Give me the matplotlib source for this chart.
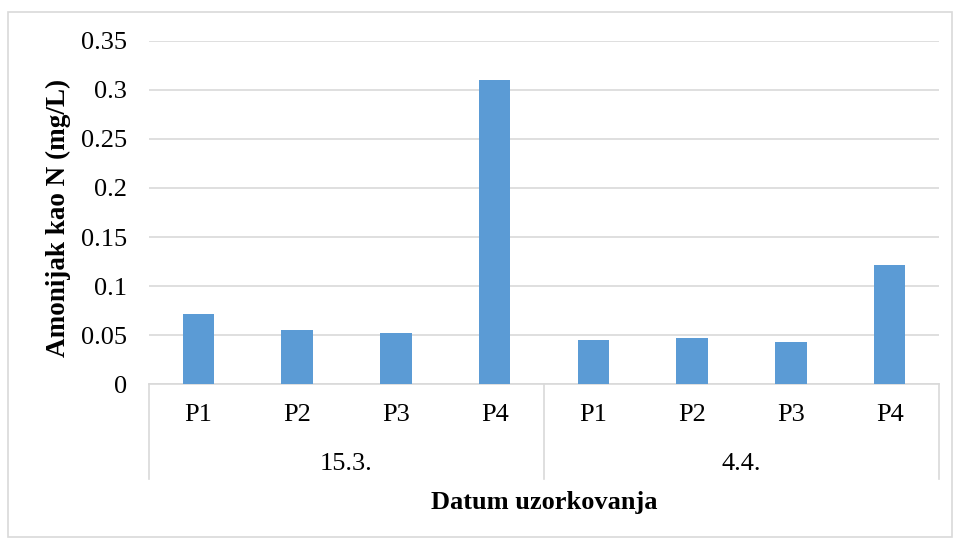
import matplotlib.pyplot as plt
from matplotlib.patches import Rectangle
from matplotlib.transforms import blended_transform_factory

# data
groups = ["15.3.", "4.4."]
points = ["P1", "P2", "P3", "P4"]
values_15_3 = [0.072, 0.055, 0.052, 0.31]
values_4_4 = [0.045, 0.047, 0.043, 0.122]
y_ticks = [0, 0.05, 0.1, 0.15, 0.2, 0.25, 0.3, 0.35]
y_tick_labels = ["0", "0.05", "0.1", "0.15", "0.2", "0.25", "0.3", "0.35"]

plt.rcParams["font.family"] = ["Liberation Serif", "DejaVu Serif"]

W, H = 955, 540
fig = plt.figure(figsize=(W / 100, H / 100), dpi=100)

# axes box in pixels: left 149, right 939, top 40.7, bottom 384.3
left, right, top, bottom = 149, 939, 40.7, 384.3
ax = fig.add_axes([left / W, (H - bottom) / H, (right - left) / W, (bottom - top) / H])

grid_color = "#d9d9d9"
bar_color = "#5b9bd5"

all_values = values_15_3 + values_4_4
x = list(range(len(all_values)))
ax.bar(x, all_values, width=0.317, color=bar_color, zorder=3)

ax.set_xlim(-0.5, len(all_values) - 0.5)
ax.set_ylim(0, 0.35)
ax.set_yticks(y_ticks)
ax.set_yticklabels(y_tick_labels)
ax.tick_params(axis="y", length=0, pad=16, labelsize=19)
ax.yaxis.grid(True, color=grid_color, linewidth=1.2, zorder=0)
ax.set_axisbelow(True)

for side in ["top", "right", "left"]:
    ax.spines[side].set_visible(False)
ax.spines["bottom"].set_color(grid_color)
ax.spines["bottom"].set_linewidth(1.2)

# two-level category axis
ax.set_xticks(x)
ax.set_xticklabels(points * len(groups))
ax.tick_params(axis="x", length=0, pad=14, labelsize=19)

trans = blended_transform_factory(ax.transData, ax.transAxes)
sep_bottom = -(479 - bottom) / (bottom - top)
for i in range(len(groups) + 1):
    xs = i * len(points) - 0.5
    ax.plot([xs, xs], [0, sep_bottom], color=grid_color, linewidth=1.2,
            transform=trans, clip_on=False)
for i, g in enumerate(groups):
    xc = i * len(points) + (len(points) - 1) / 2
    ax.text(xc, -(464 - bottom) / (bottom - top), g, transform=trans,
            ha="center", va="center", fontsize=19)

ax.text(0.5, -(502 - bottom) / (bottom - top), "Datum uzorkovanja",
        transform=ax.transAxes, ha="center", va="center",
        fontsize=19, fontweight="bold")
fig.text(58 / W, 1 - 218 / H, "Amonijak kao N (mg/L)", rotation=90,
         ha="center", va="center", fontsize=19.5, fontweight="bold")

# outer chart border
fig.patches.append(Rectangle((7.5 / W, 1 - 537 / H), (952 - 7.5) / W, (537 - 11.5) / H,
                             transform=fig.transFigure, fill=False,
                             edgecolor=grid_color, linewidth=1.2))

fig.savefig("out.png", dpi=100)
